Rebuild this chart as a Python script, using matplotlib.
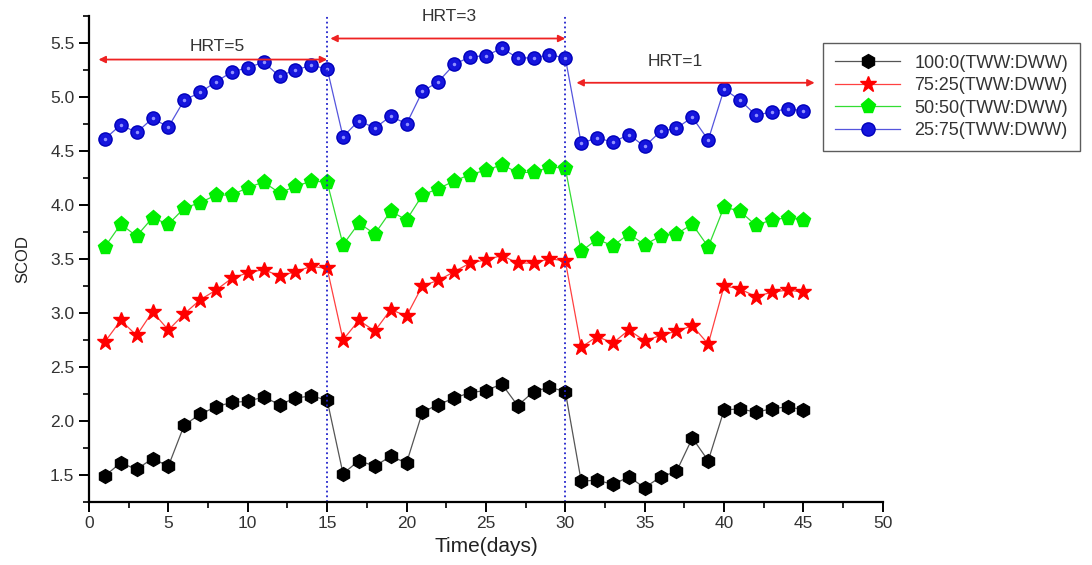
import matplotlib
matplotlib.use('Agg')
import matplotlib.pyplot as plt
from matplotlib.ticker import MultipleLocator

plt.rcParams['font.family'] = ['Liberation Sans', 'DejaVu Sans']
plt.rcParams['font.size'] = 12

# data
days = list(range(1, 46))
tww_100 = [1.49, 1.61, 1.55, 1.65, 1.58, 1.96, 2.06, 2.13, 2.17, 2.18, 2.22, 2.15, 2.21, 2.23, 2.19,
           1.51, 1.63, 1.58, 1.67, 1.61, 2.08, 2.15, 2.21, 2.26, 2.28, 2.34, 2.14, 2.27, 2.31, 2.27,
           1.44, 1.45, 1.41, 1.48, 1.38, 1.48, 1.53, 1.84, 1.63, 2.10, 2.11, 2.08, 2.11, 2.13, 2.10]
tww_75 = [2.73, 2.93, 2.79, 3.01, 2.84, 2.99, 3.12, 3.21, 3.32, 3.37, 3.40, 3.34, 3.38, 3.43, 3.41,
          2.75, 2.93, 2.83, 3.03, 2.97, 3.25, 3.30, 3.38, 3.46, 3.49, 3.53, 3.46, 3.46, 3.50, 3.48,
          2.68, 2.78, 2.72, 2.84, 2.74, 2.79, 2.83, 2.88, 2.71, 3.25, 3.22, 3.15, 3.19, 3.21, 3.19]
tww_50 = [3.61, 3.82, 3.71, 3.88, 3.82, 3.97, 4.02, 4.09, 4.09, 4.16, 4.21, 4.11, 4.17, 4.22, 4.21,
          3.63, 3.83, 3.73, 3.94, 3.86, 4.09, 4.15, 4.22, 4.28, 4.32, 4.37, 4.30, 4.30, 4.35, 4.34,
          3.57, 3.68, 3.62, 3.73, 3.63, 3.71, 3.73, 3.82, 3.61, 3.98, 3.94, 3.81, 3.86, 3.88, 3.86]
tww_25 = [4.61, 4.74, 4.67, 4.80, 4.72, 4.97, 5.04, 5.14, 5.23, 5.27, 5.32, 5.19, 5.25, 5.29, 5.26,
          4.63, 4.78, 4.71, 4.82, 4.75, 5.05, 5.14, 5.30, 5.37, 5.38, 5.45, 5.36, 5.36, 5.39, 5.36,
          4.57, 4.62, 4.58, 4.65, 4.54, 4.68, 4.71, 4.81, 4.60, 5.07, 4.97, 4.83, 4.86, 4.89, 4.87]
labels = ['100:0(TWW:DWW)', '75:25(TWW:DWW)', '50:50(TWW:DWW)', '25:75(TWW:DWW)']

# HRT periods: (start, end, label)
hrt_spans = [(0.6, 15.0, 'HRT=5'), (15.2, 30.0, 'HRT=3'), (30.7, 45.7, 'HRT=1')]
hrt_arrow_y = [5.345, 5.54, 5.13]
hrt_text_pos = [(8.1, 5.47), (22.7, 5.74), (36.9, 5.33)]
boundaries = [15, 30]

fig = plt.figure(figsize=(10.92, 5.65), dpi=100)
ax = fig.add_axes([0.0815, 0.112, 0.727, 0.86])

ax.plot(days, tww_100, color='#555555', lw=0.9, marker='h', ms=10, mfc='black', mec='black', label=labels[0])
ax.plot(days, tww_75, color='#ff4040', lw=0.9, marker='*', ms=12, mfc='#ff0000', mec='#ff0000', label=labels[1])
ax.plot(days, tww_50, color='#33dd33', lw=0.9, marker='p', ms=11, mfc='#00ee00', mec='#00ee00', label=labels[2])
ax.plot(days, tww_25, color='#5555dd', lw=0.9, marker='o', ms=9.5, mfc='#1515dd', mec='#0000bb', label=labels[3])
# small shine on blue balls
ax.plot(days, tww_25, ls='none', marker='o', ms=2.5, mfc='#9090ff', mec='none')

for b in boundaries:
    ax.axvline(b, color='#2222cc', ls=':', lw=1.3)

for (x0, x1, txt), ya, (tx, ty) in zip(hrt_spans, hrt_arrow_y, hrt_text_pos):
    ax.annotate('', xy=(x0, ya), xytext=(x1, ya),
                arrowprops=dict(arrowstyle='<|-|>', color='#ee2222', lw=1.3,
                                mutation_scale=10, shrinkA=0, shrinkB=0))
    ax.text(tx, ty, txt, ha='center', va='center', color='#333333', fontsize=12.5)

ax.set_xlim(0, 50)
ax.set_ylim(1.25, 5.75)
ax.xaxis.set_major_locator(MultipleLocator(5))
ax.xaxis.set_minor_locator(MultipleLocator(2.5))
ax.yaxis.set_major_locator(MultipleLocator(0.5))
ax.yaxis.set_minor_locator(MultipleLocator(0.25))
ax.yaxis.set_major_formatter(plt.FormatStrFormatter('%.1f'))

ax.spines['top'].set_visible(False)
ax.spines['right'].set_visible(False)
ax.spines['left'].set_linewidth(1.6)
ax.spines['bottom'].set_linewidth(1.6)
ax.tick_params(which='major', direction='out', length=7, width=1.4, labelsize=12.5, labelcolor='#333333')
ax.tick_params(which='minor', direction='out', length=4, width=1.2)

ax.set_xlabel('Time(days)', fontsize=15, color='#222222', labelpad=4)
ax.set_ylabel('SCOD', fontsize=12, color='#222222', labelpad=14)

leg = fig.legend(loc='upper left', bbox_to_anchor=(0.754, 0.924), borderaxespad=0, frameon=True,
                 fancybox=False, edgecolor='#333333', fontsize=13, handlelength=3.6,
                 borderpad=0.65, labelspacing=0.3)
leg.get_frame().set_linewidth(1.0)
for t in leg.get_texts():
    t.set_color('#333333')

fig.savefig('out.png', dpi=100)
